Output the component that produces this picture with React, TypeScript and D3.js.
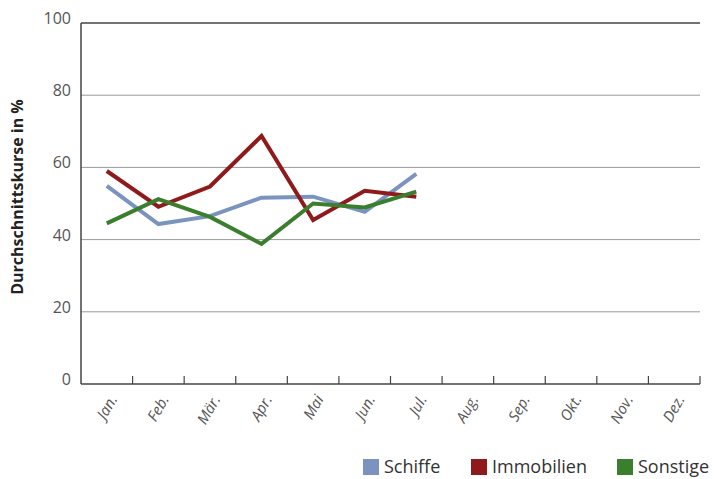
import React from "react";
import * as d3 from "d3";

const months = ["Jan.", "Feb.", "Mär.", "Apr.", "Mai", "Jun.", "Jul.", "Aug.", "Sep.", "Okt.", "Nov.", "Dez."];
const yTicks = [0, 20, 40, 60, 80, 100];

const schiffe = [54.9, 44.3, 46.5, 51.6, 51.9, 47.7, 58.2];
const immobilien = [59.0, 49.1, 54.7, 68.7, 45.4, 53.5, 51.9];
const sonstige = [44.5, 51.2, 46.3, 38.8, 50.0, 48.9, 53.3];

const series = [
  { name: "Schiffe", values: schiffe, color: "#7b93bf" },
  { name: "Immobilien", values: immobilien, color: "#8e1a1c" },
  { name: "Sonstige", values: sonstige, color: "#3a7e2e" },
];

const W = 714;
const H = 479;
const left = 81;
const right = 700;
const top = 23;
const bottom = 384;
const font = "'Open Sans', 'DejaVu Sans', sans-serif";

export default function App() {
  const x = d3.scaleBand<string>().domain(months).range([left, right]);
  const y = d3.scaleLinear().domain([0, 100]).range([bottom, top]);
  const line = d3
    .line<number>()
    .x((d, i) => x(months[i])! + x.bandwidth() / 2)
    .y((d) => y(d));

  const legendX = [363, 471, 617];

  return (
    <svg width={W} height={H} style={{ position: "absolute", left: 0, top: 0, background: "#fff" }}>
      {/* grid */}
      {yTicks.slice(1).map((t) => (
        <line
          key={t}
          x1={left}
          x2={right}
          y1={y(t)}
          y2={y(t)}
          stroke={t === 100 ? "#444" : "#9a9a9a"}
          strokeWidth={t === 100 ? 1.5 : 1}
        />
      ))}
      {/* y labels */}
      {yTicks.map((t) => (
        <text
          key={t}
          x={71}
          y={y(t) + 1}
          textAnchor="end"
          fontFamily={font}
          fontSize={16}
          fill="#555"
        >
          {t}
        </text>
      ))}
      <text
        transform={`translate(23,197) rotate(-90)`}
        textAnchor="middle"
        fontFamily={font}
        fontWeight="bold"
        fontSize={16}
        fill="#222"
      >
        Durchschnittskurse in %
      </text>
      {/* axes */}
      <line x1={left} x2={left} y1={top} y2={bottom} stroke="#444" strokeWidth={1.5} />
      <line x1={left} x2={right} y1={bottom} y2={bottom} stroke="#444" strokeWidth={1.5} />
      {months.map((m) => (
        <line
          key={m}
          x1={x(m)! + x.bandwidth()}
          x2={x(m)! + x.bandwidth()}
          y1={bottom}
          y2={bottom - 8}
          stroke="#444"
          strokeWidth={1.2}
        />
      ))}
      {months.map((m) => (
        <text
          key={m}
          transform={`translate(${x(m)! + x.bandwidth() / 2 + 11},${bottom + 15}) rotate(-60)`}
          textAnchor="end"
          fontFamily={font}
          fontStyle="italic"
          fontSize={15}
          fill="#555"
        >
          {m}
        </text>
      ))}
      {/* lines */}
      {series.map((s) => (
        <path
          key={s.name}
          d={line(s.values)!}
          fill="none"
          stroke={s.color}
          strokeWidth={4}
          strokeLinejoin="miter"
        />
      ))}
      {/* legend */}
      {series.map((s, i) => (
        <g key={s.name} transform={`translate(${legendX[i]},459)`}>
          <rect width={16} height={16} fill={s.color} />
          <text x={21} y={14} fontFamily={font} fontSize={18} fill="#333">
            {s.name}
          </text>
        </g>
      ))}
    </svg>
  );
}
